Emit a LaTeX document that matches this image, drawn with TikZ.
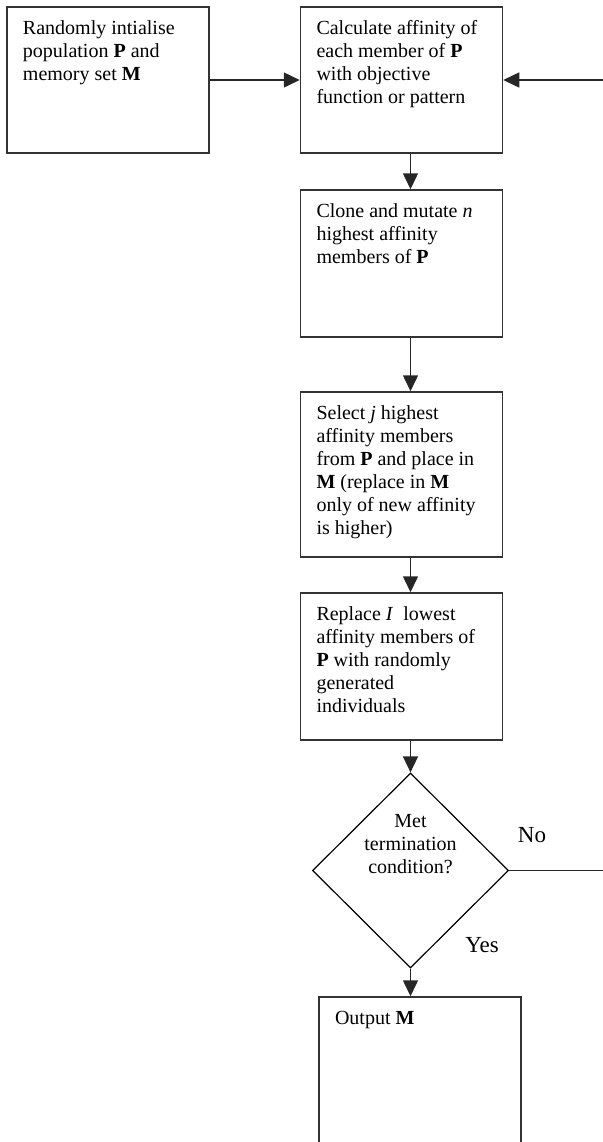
\documentclass[tikz,border=0pt]{standalone}
\usepackage{fontspec}
\setmainfont{Liberation Serif}
\usetikzlibrary{arrows.meta,shapes.geometric,positioning,calc}

\newcommand{\btext}[2]{\parbox[c][#1][t]{85pt}{\raggedright\strut #2}}

\begin{document}
\begin{tikzpicture}[
    x=0.5pt, y=-0.5pt,
    stepbox/.style={draw=black!80, line width=0.75pt, inner xsep=8pt, inner ysep=5.5pt, font=\fontsize{10}{11.5}\selectfont},
    test/.style={draw=black, line width=0.6pt, diamond, aspect=1, inner sep=0pt, minimum width=98pt, minimum height=97.5pt, font=\fontsize{10}{11.5}\selectfont},
    arr/.style={-{Triangle[length=8pt, width=7.5pt]}, line width=0.75pt, draw=black!85},
    lbl/.style={font=\fontsize{11.5}{13}\selectfont, inner sep=0pt, anchor=base}
]
\useasboundingbox (0,0) rectangle (603,1142);
\clip (0,0) rectangle (603,1142);

\node[stepbox] (init) at (108,80) {\btext{62pt}{Randomly intialise\\population \textbf{P} and\\memory set \textbf{M}}};
\node[stepbox] (calc) at (401.5,80) {\btext{62pt}{Calculate affinity of\\each member of \textbf{P}\\with objective\\function or pattern}};
\node[stepbox] (clone) at (401.5,263.5) {\btext{62.5pt}{Clone and mutate \textit{n}\\highest affinity\\members of \textbf{P}}};
\node[stepbox] (select) at (401.5,474.5) {\btext{71.5pt}{Select \textit{j} highest\\affinity members\\from \textbf{P} and place in\\\textbf{M} (replace in \textbf{M}\\only of new affinity\\is higher)}};
\node[stepbox] (replace) at (401.5,666.5) {\btext{62.5pt}{Replace \textit{I}~ lowest\\affinity members of\\\textbf{P} with randomly\\generated\\individuals}};
\node[test] (dmd) at (410.5,870.5) {\raisebox{10.5pt}[0pt][0pt]{\parbox{60pt}{\centering Met\\termination\\condition?}}};
\node[stepbox] (output) at (420,1080) {\btext{72pt}{Output \textbf{M}}};

\node[lbl] (no) at (532,842) {No};
\node[lbl] (yes) at (482,952) {Yes};
\coordinate (rim) at (603,80);

\draw[arr] (init.east) -- (calc.west);
\draw[arr] (rim) -- (calc.east);
\draw[arr] (calc.south -| dmd.north) -- (clone.north -| dmd.north);
\draw[arr] (clone.south -| dmd.north) -- (select.north -| dmd.north);
\draw[arr] (select.south -| dmd.north) -- (replace.north -| dmd.north);
\draw[arr] (replace.south -| dmd.north) -- (dmd.north);
\draw[arr] (dmd.south) -- (output.north -| dmd.south);
\draw[line width=0.75pt, draw=black!85] (dmd.east) -- (dmd.east -| rim);
\end{tikzpicture}
\end{document}
